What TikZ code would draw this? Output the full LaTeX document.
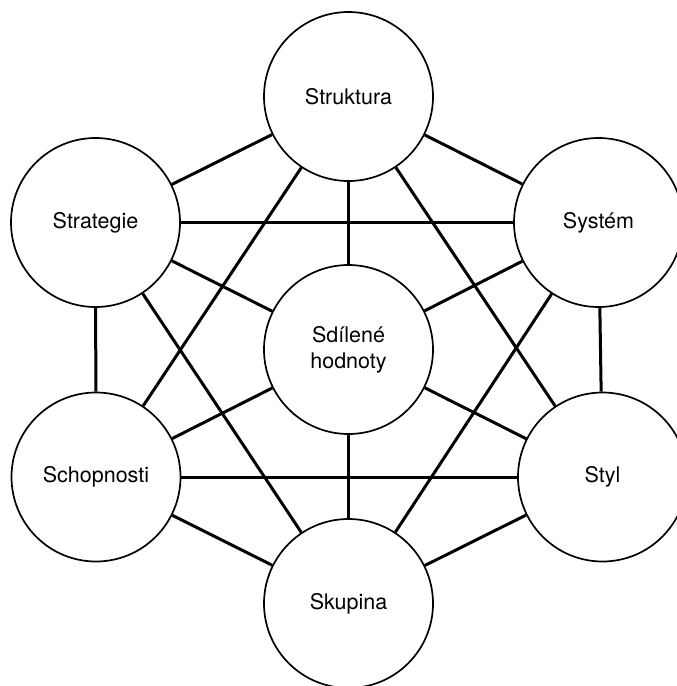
\documentclass[tikz,border=0pt]{standalone}
\usepackage{fontspec}
\setmainfont{TeX Gyre Heros}
\begin{document}
\begin{tikzpicture}[x=1pt,y=-1pt,
  element/.style={circle,draw=black,line width=1.7pt,fill=white,minimum size=169pt,inner sep=0pt,align=center,font=\fontsize{21.5}{26}\selectfont},
  link/.style={line width=3pt,black}]
\useasboundingbox (0,0) rectangle (677,686);
\clip (0,0) rectangle (677,686);
\node[element] (struktura) at (348.5,96.5) {Struktura};
\node[element] (strategie) at (95.5,222.5) {Strategie};
\node[element] (system) at (598.5,222.5) {Systém};
\node[element] (hodnoty) at (348.5,349.5) {Sdílené\\hodnoty};
\node[element] (schopnosti) at (96,477) {Schopnosti};
\node[element] (styl) at (602.5,477) {Styl};
\node[element] (skupina) at (348.5,603.5) {Skupina};
\foreach \a/\b in {struktura/system,system/styl,styl/skupina,skupina/schopnosti,schopnosti/strategie,strategie/struktura,
  struktura/styl,struktura/schopnosti,system/skupina,system/strategie,styl/schopnosti,skupina/strategie,
  hodnoty/struktura,hodnoty/system,hodnoty/styl,hodnoty/skupina,hodnoty/schopnosti,hodnoty/strategie}
  \draw[link] (\a) -- (\b);
\end{tikzpicture}
\end{document}
